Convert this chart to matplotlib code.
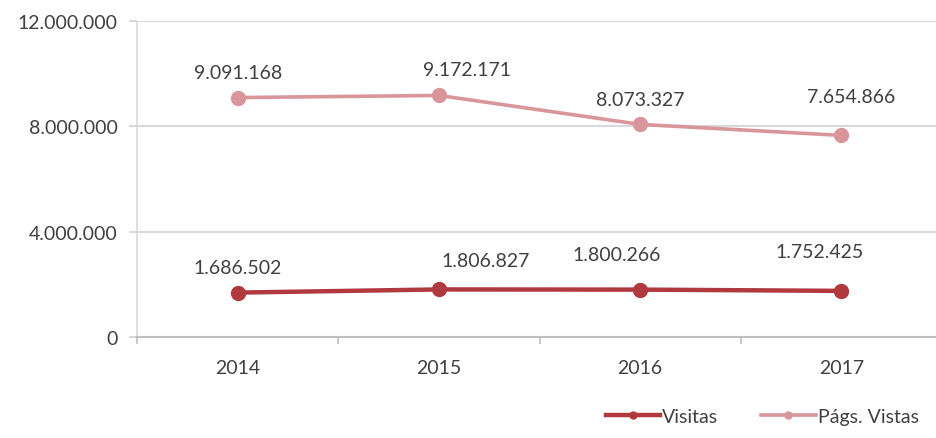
import matplotlib
matplotlib.use('Agg')
import matplotlib.pyplot as plt
from matplotlib.ticker import FuncFormatter

years = ['2014', '2015', '2016', '2017']
visitas = [1686502, 1806827, 1800266, 1752425]
pags_vistas = [9091168, 9172171, 8073327, 7654866]

# label offsets (points) as they sit in the reference
visitas_off = [(0, 18), (34, 21), (-17, 25), (-16, 28)]
pags_off = [(0, 18), (20, 19), (0, 18), (7, 28)]

dark = '#B0393E'
pink = '#D8959A'
txt = '#404040'
grid = '#D9D9D9'

plt.rcParams['font.family'] = ['Lato', 'DejaVu Sans']


def fmt(v, pos=None):
    return '{:,.0f}'.format(v).replace(',', '.')


fig = plt.figure(figsize=(9.36, 4.39), dpi=100)
ax = fig.add_axes([0.1464, 0.230, 0.86, 0.72])

x = list(range(len(years)))
ax.plot(x, visitas, color=dark, lw=3.2, marker='o', ms=10, label='Visitas', zorder=3)
ax.plot(x, pags_vistas, color=pink, lw=2.6, marker='o', ms=10, label='Págs. Vistas', zorder=3)

for i in x:
    ax.annotate(fmt(visitas[i]), (i, visitas[i]), xytext=visitas_off[i],
                textcoords='offset points', ha='center', va='center',
                fontsize=14, color=txt)
    ax.annotate(fmt(pags_vistas[i]), (i, pags_vistas[i]), xytext=pags_off[i],
                textcoords='offset points', ha='center', va='center',
                fontsize=14, color=txt)

ax.set_xlim(-0.5, 3.5)
ax.set_ylim(0, 12000000)
ax.set_yticks([0, 4000000, 8000000, 12000000])
ax.yaxis.set_major_formatter(FuncFormatter(fmt))
ax.set_xticks(x)
ax.set_xticklabels(years)
ax.set_xticks([-0.5, 0.5, 1.5, 2.5, 3.5], minor=True)

ax.grid(axis='y', color=grid, lw=1.5)
ax.set_axisbelow(True)
for s in ['top', 'right']:
    ax.spines[s].set_visible(False)
ax.spines['left'].set_color(grid)
ax.spines['left'].set_linewidth(1.2)
ax.spines['bottom'].set_color('#BFBFBF')
ax.spines['bottom'].set_linewidth(1.5)

ax.tick_params(axis='y', length=6, color=grid, width=1.5, labelsize=14,
               labelcolor=txt, pad=8)
ax.tick_params(axis='x', which='major', length=0, labelsize=14,
               labelcolor=txt, pad=16)
ax.tick_params(axis='x', which='minor', length=5, color='#BFBFBF', width=1.2)

fig.legend(loc='lower right', bbox_to_anchor=(1.0, -0.01), ncol=2, frameon=False,
           fontsize=14, labelcolor=txt, handlelength=2.8, handletextpad=0.1,
           columnspacing=2.2, markerscale=0.5)

fig.savefig('out.png', dpi=100)
